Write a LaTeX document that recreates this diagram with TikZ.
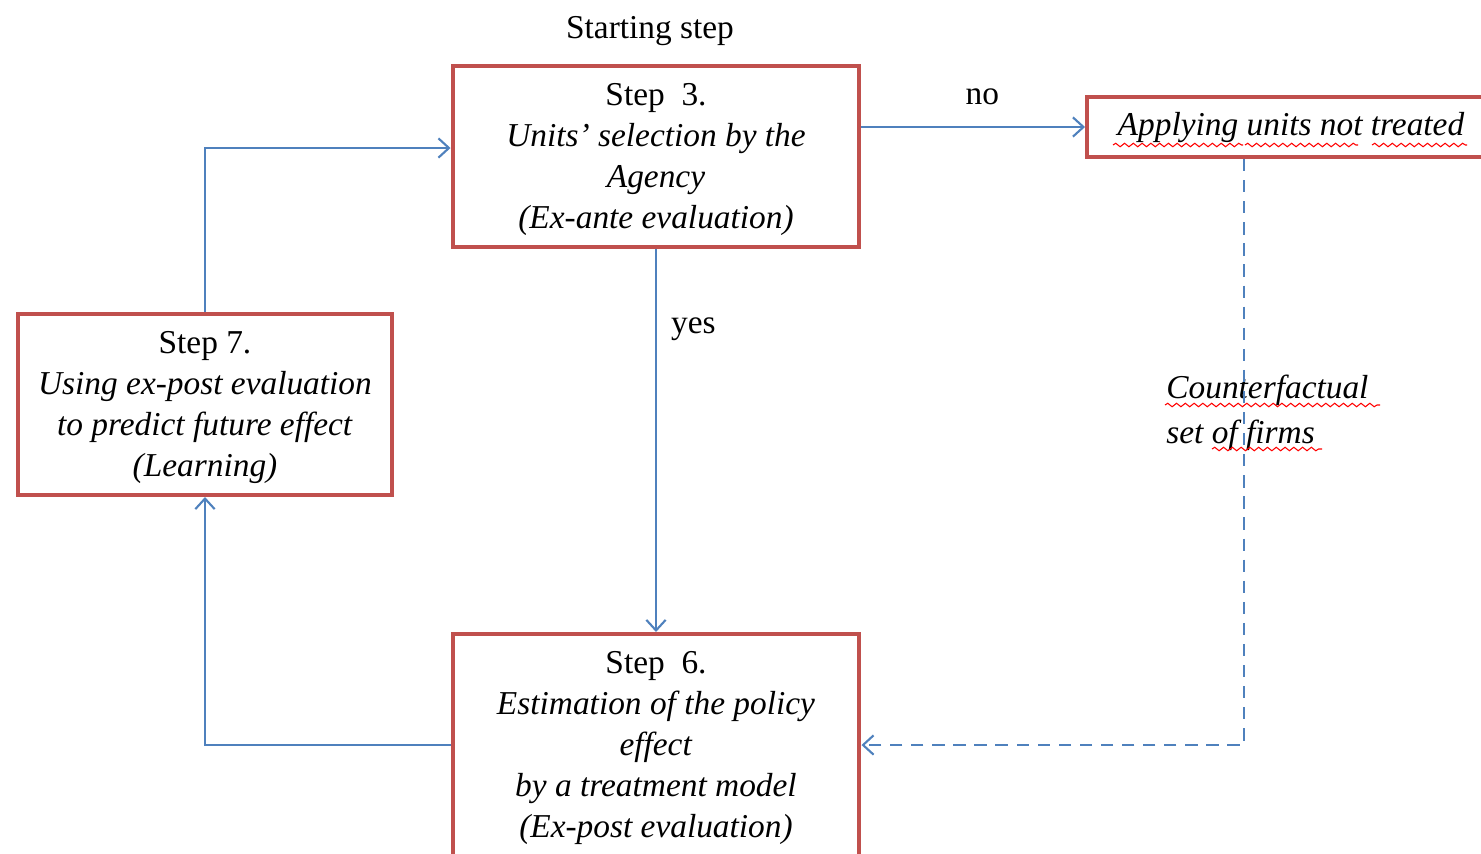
\documentclass[tikz,border=0pt]{standalone}
\usepackage{fontspec}
\setmainfont{Liberation Serif}
\usepackage{xcolor}
\usepackage{tikz}
\usetikzlibrary{calc}
\usetikzlibrary{arrows.meta}
\usetikzlibrary{decorations.pathmorphing}
\definecolor{boxred}{RGB}{192,80,77}
\definecolor{flowblue}{RGB}{79,129,189}
\tikzstyle{stepbox} = [draw=boxred, line width=2.3pt, rectangle, align=center,
inner sep=2pt, font=\fontsize{19}{23.3}\selectfont]
\tikzstyle{plaintext} = [font=\fontsize{19}{23.3}\selectfont, inner sep=0pt]
\tikzstyle{flow} = [draw=flowblue, line width=1.2pt,
-{Straight Barb[length=6pt,width=11pt,line width=1.2pt]}]
\tikzstyle{spell} = [draw=red, line width=0.6pt,
decorate, decoration={snake, segment length=5pt, amplitude=1pt}]

\begin{document}
\begin{tikzpicture}[x=0.02cm, y=-0.02cm]
        \useasboundingbox (0,0) rectangle (1481,853);
        % boxes
        \node [stepbox, minimum width=8.14cm, minimum height=3.62cm] (step3) at (656,156.5) {%
            \strut Step~~3.\\
            \textit{Units’ selection by the}\\
            \textit{Agency}\\
            \textit{(Ex-ante evaluation)}};
        \node [stepbox, minimum width=8.16cm, minimum height=1.2cm] (apply) at (1291,127) {%
            \strut\textit{Applying units not treated}};
        \node [stepbox, minimum width=7.48cm, minimum height=3.62cm] (step7) at (205,404.5) {%
            \strut Step 7.\\
            \textit{Using ex-post evaluation}\\
            \textit{to predict future effect}\\
            \textit{(Learning)}};
        \node [stepbox, minimum width=8.14cm, minimum height=4.44cm] (step6) at (656,745) {%
            \strut Step~~6.\\
            \textit{Estimation of the policy}\\
            \textit{effect}\\
            \textit{by a treatment model}\\
            \textit{(Ex-post evaluation)}};
        \node [plaintext] (start) at (650,31) {Starting step};
        \node [plaintext, anchor=west, align=left] (counter) at (1166,413) {%
            \textit{Counterfactual}\\[2pt]
            \textit{set of firms}};
        % connectors
        \draw [flow] (step3.east |- apply.west) -- node[plaintext, above=12pt, xshift=0.18cm] (no) {no} (apply.west);
        \draw [flow] (step3.south) -- node[plaintext, right=8pt, pos=0.21] (yes) {yes} (step6.north);
        \draw [flow] (step6.west) -| (step7.south);
        \draw [flow] (step7.north) |- ([yshift=0.17cm]step3.west);
        \draw [flow, dash pattern=on 7pt off 5pt] ([xshift=-0.94cm]apply.south) |- (step6.east);
        % spelling marks
        \draw [spell] (1113,145) -- (1243,145);
        \draw [spell] (1245,145) -- (1358,145);
        \draw [spell] (1372,145) -- (1467,145);
        \draw [spell] (1165,405) -- (1380,405);
        \draw [spell] (1212,449) -- (1322,449);
\end{tikzpicture}
\end{document}
